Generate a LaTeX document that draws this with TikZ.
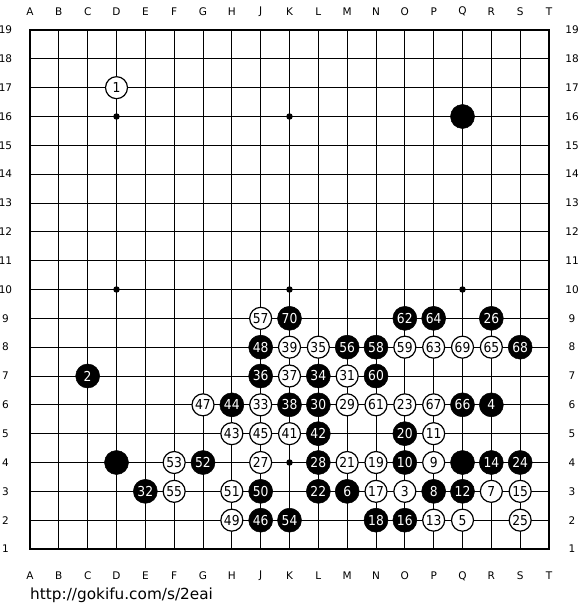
\documentclass[tikz,border=0pt]{standalone}
\usepackage{fontspec}
\setmainfont{DejaVu Sans}
\newfontfamily\numfont{DejaVu Sans Condensed}
\begin{document}
\begin{tikzpicture}[x=1pt,y=-1pt,
  gridline/.style={line width=1pt,black},
  border/.style={line width=2.4pt,black},
  lab/.style={inner sep=0pt,font=\fontsize{10.5}{10.5}\selectfont},
  star/.style={circle,fill=black,inner sep=0pt,minimum size=6.5pt},
  stoneb/.style={circle,fill=black,draw=black,line width=0.5pt,minimum size=24pt,inner sep=0pt,text=white,font=\numfont\fontsize{13.7}{13.7}\selectfont},
  stonew/.style={circle,fill=white,draw=black,line width=1.2pt,minimum size=22pt,inner sep=0pt,text=black,font=\numfont\fontsize{13.7}{13.7}\selectfont}]
\useasboundingbox (0,0) rectangle (580,610);
\fill[white] (0,0) rectangle (580,610);
\def\sp{28.8333}
\foreach \i in {0,...,18} {
  \draw[gridline] ({30+\i*\sp},30) -- ({30+\i*\sp},549);
  \draw[gridline] (30,{30+\i*\sp}) -- (549,{30+\i*\sp});
}
\draw[border] (30,30) rectangle (549,549);
\foreach \l [count=\i from 0] in {A,B,C,D,E,F,G,H,J,K,L,M,N,O,P,Q,R,S,T} {
  \node[lab] (top\l) at ({30+\i*\sp},11.5) {\l};
  \node[lab] (bot\l) at ({30+\i*\sp},576) {\l};
}
\foreach \r in {1,...,19} {
  \node[lab] (left\r) at (5.5,{30+(19-\r)*\sp}) {\r};
  \node[lab] (right\r) at (572,{30+(19-\r)*\sp}) {\r};
}
\foreach \c/\r in {3/16,9/16,15/16,3/10,9/10,15/10,3/4,9/4,15/4} {
  \node[star] (st\c-\r) at ({30+\c*\sp},{30+(19-\r)*\sp}) {};
}
\foreach \c/\r in {3/4,15/16,15/4} {
  \node[stoneb] (b\c-\r) at ({30+\c*\sp},{30+(19-\r)*\sp}) {};
}
\foreach \c/\r/\n in {3/17/1,13/3/3,15/2/5,16/3/7,14/4/9,14/5/11,14/2/13,17/3/15,12/3/17,12/4/19,11/4/21,13/6/23,17/2/25,8/4/27,11/6/29,11/7/31,8/6/33,10/8/35,9/7/37,9/8/39,9/5/41,7/5/43,8/5/45,6/6/47,7/2/49,7/3/51,5/4/53,5/3/55,8/9/57,13/8/59,12/6/61,14/8/63,16/8/65,14/6/67,15/8/69} {
  \node[stonew] (m\n) at ({30+\c*\sp},{30+(19-\r)*\sp}) {\n};
}
\foreach \c/\r/\n in {2/7/2,16/6/4,11/3/6,14/3/8,13/4/10,15/3/12,16/4/14,13/2/16,12/2/18,13/5/20,10/3/22,17/4/24,16/9/26,10/4/28,10/6/30,4/3/32,10/7/34,8/7/36,9/6/38,10/5/42,7/6/44,8/2/46,8/8/48,8/3/50,6/4/52,9/2/54,11/8/56,12/8/58,12/7/60,13/9/62,14/9/64,15/6/66,17/8/68,9/9/70} {
  \node[stoneb] (m\n) at ({30+\c*\sp},{30+(19-\r)*\sp}) {\n};
}
\node[inner sep=0pt,anchor=base west,font=\fontsize{15.3}{15.3}\selectfont] (url) at (30,599) {http://gokifu.com/s/2eai};
\end{tikzpicture}
\end{document}
